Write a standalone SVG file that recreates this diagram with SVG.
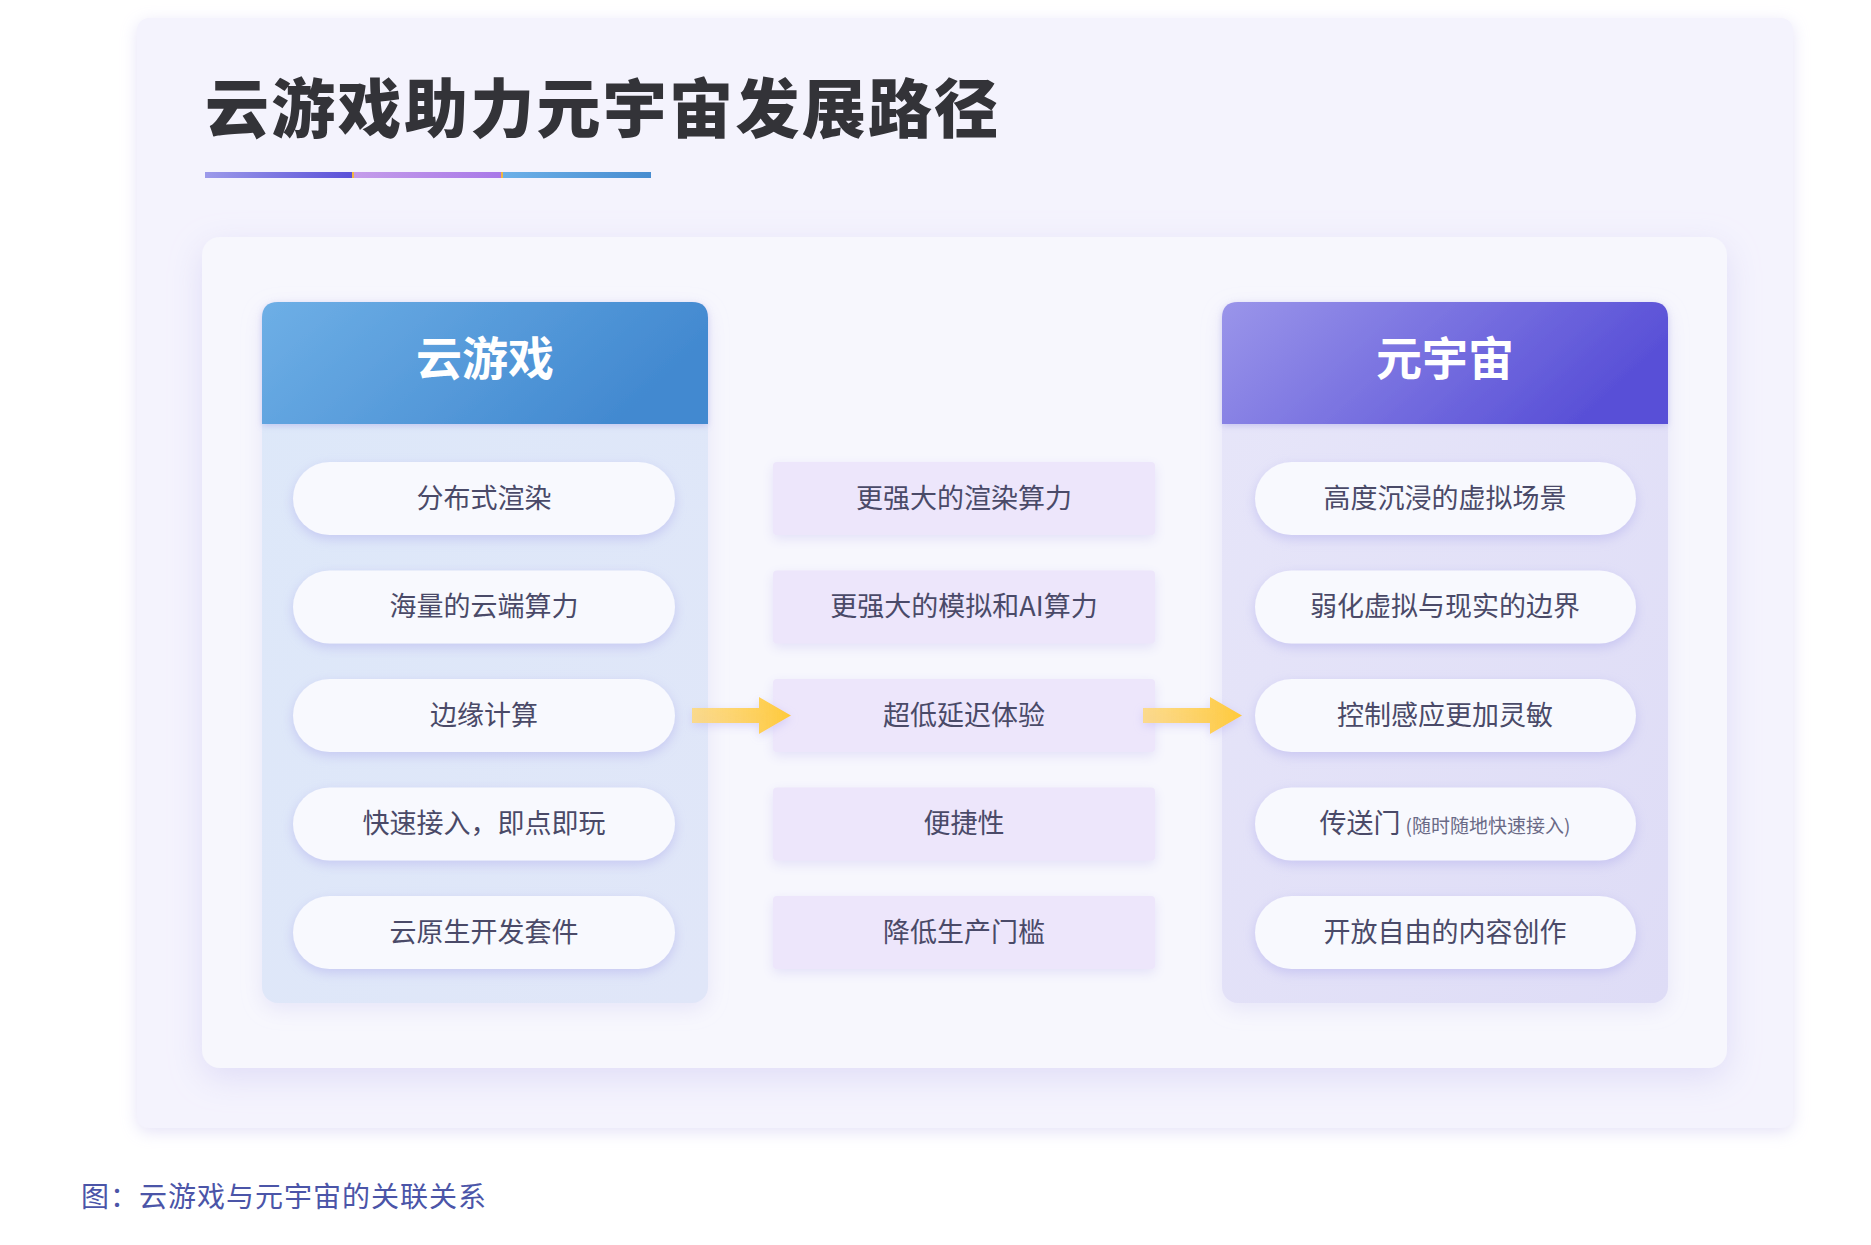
<svg xmlns="http://www.w3.org/2000/svg" width="1871" height="1245" viewBox="0 0 1871 1245">
<defs>
<style>
.cjk{font-family:"Noto Sans CJK SC","Noto Sans",sans-serif}
.title{font-size:64px;font-weight:900;fill:#333338;letter-spacing:2.3px}
.head{font-size:46px;font-weight:700;fill:#ffffff;text-anchor:middle}
.item{font-size:27px;font-weight:400;fill:#4a4a68;text-anchor:middle}
.small{font-size:19px;fill:#6a6a86}
.pill{fill:#f8f9fe;filter:url(#pillShadow)}
.mid{fill:#ede6fb;filter:url(#midShadow)}
.cap{font-size:28px;fill:#4b55a8;letter-spacing:1px}
</style>
<linearGradient id="gBar1" x1="0" x2="1" y1="0" y2="0"><stop offset="0" stop-color="#9c9aea"/><stop offset="1" stop-color="#5a50d8"/></linearGradient>
<linearGradient id="gBar2" x1="0" x2="1" y1="0" y2="0"><stop offset="0" stop-color="#c49cea"/><stop offset="1" stop-color="#a878e8"/></linearGradient>
<linearGradient id="gBar3" x1="0" x2="1" y1="0" y2="0"><stop offset="0" stop-color="#6cb0e8"/><stop offset="1" stop-color="#478cd0"/></linearGradient>
<linearGradient id="gHeadL" x1="0" x2="1" y1="0" y2="0.3"><stop offset="0" stop-color="#6eafe6"/><stop offset="1" stop-color="#4289d0"/></linearGradient>
<linearGradient id="gHeadR" x1="0" x2="1" y1="0" y2="0.3"><stop offset="0" stop-color="#9a95ea"/><stop offset="1" stop-color="#5950d7"/></linearGradient>
<linearGradient id="gBodyL" x1="0" x2="1" y1="0" y2="1"><stop offset="0" stop-color="#dde8f9"/><stop offset="1" stop-color="#e0e6f8"/></linearGradient>
<linearGradient id="gBodyR" x1="0" x2="1" y1="0" y2="1"><stop offset="0" stop-color="#e7e6f9"/><stop offset="1" stop-color="#dedcf6"/></linearGradient>
<linearGradient id="gArrow" x1="0" x2="1" y1="0" y2="0"><stop offset="0" stop-color="#ffd978" stop-opacity="0.85"/><stop offset="1" stop-color="#ffca3a"/></linearGradient>
<filter id="cardShadow" x="-5%" y="-5%" width="110%" height="112%"><feDropShadow dx="0" dy="4" stdDeviation="8" flood-color="#c4c0ee" flood-opacity="0.45"/></filter>
<filter id="panelShadow" x="-5%" y="-5%" width="110%" height="115%"><feDropShadow dx="0" dy="10" stdDeviation="16" flood-color="#c8c2f0" flood-opacity="0.45"/></filter>
<filter id="colShadow" x="-10%" y="-5%" width="120%" height="112%"><feDropShadow dx="0" dy="6" stdDeviation="10" flood-color="#c8c4f0" flood-opacity="0.35"/></filter>
<filter id="headShadow" x="-5%" y="-10%" width="110%" height="125%"><feDropShadow dx="0" dy="2" stdDeviation="3" flood-color="#8f88e0" flood-opacity="0.35"/></filter>
<filter id="pillShadow" x="-10%" y="-30%" width="120%" height="170%"><feDropShadow dx="0" dy="4" stdDeviation="6" flood-color="#a8a4ea" flood-opacity="0.45"/></filter>
<filter id="midShadow" x="-10%" y="-30%" width="120%" height="170%"><feDropShadow dx="0" dy="4" stdDeviation="6" flood-color="#cbc6f2" flood-opacity="0.45"/></filter>
<filter id="arrowShadow" x="-30%" y="-60%" width="160%" height="220%"><feDropShadow dx="0" dy="3" stdDeviation="5" flood-color="#b4acf0" flood-opacity="0.45"/></filter>
</defs>

<rect width="1871" height="1245" fill="#ffffff"/>

<g id="card">
<rect x="137" y="18" width="1656" height="1110" rx="12" fill="#f4f3fd" filter="url(#cardShadow)"/>
</g>

<g id="title">
<text class="cjk title" x="205" y="132">云游戏助力元宇宙发展路径</text>
<rect x="205" y="172" width="446" height="6" fill="#f2b640"/>
<rect x="205" y="172" width="147" height="6" fill="url(#gBar1)"/>
<rect x="354" y="172" width="147" height="6" fill="url(#gBar2)"/>
<rect x="503" y="172" width="148" height="6" fill="url(#gBar3)"/>
</g>

<g id="panel">
<rect x="202" y="237" width="1525" height="831" rx="18" fill="#f7f7fd" filter="url(#panelShadow)"/>
</g>

<g id="col-cloud-gaming">
<rect x="262" y="302" width="446" height="701" rx="16" fill="url(#gBodyL)" filter="url(#colShadow)"/>
<path d="M262,424 V318 Q262,302 278,302 H692 Q708,302 708,318 V424 Z" fill="url(#gHeadL)" filter="url(#headShadow)"/>
<text class="cjk head" x="485" y="375">云游戏</text>
</g>

<g id="col-metaverse">
<rect x="1222" y="302" width="446" height="701" rx="16" fill="url(#gBodyR)" filter="url(#colShadow)"/>
<path d="M1222,424 V318 Q1222,302 1238,302 H1652 Q1668,302 1668,318 V424 Z" fill="url(#gHeadR)" filter="url(#headShadow)"/>
<text class="cjk head" x="1445" y="375">元宇宙</text>
</g>

<g id="left-1"><rect class="pill" x="293" y="462" width="382" height="73" rx="36.5"/><text class="cjk item" x="484" y="507.5">分布式渲染</text></g>
<g id="left-2"><rect class="pill" x="293" y="570.5" width="382" height="73" rx="36.5"/><text class="cjk item" x="484" y="616">海量的云端算力</text></g>
<g id="left-3"><rect class="pill" x="293" y="679" width="382" height="73" rx="36.5"/><text class="cjk item" x="484" y="724.5">边缘计算</text></g>
<g id="left-4"><rect class="pill" x="293" y="787.5" width="382" height="73" rx="36.5"/><text class="cjk item" x="484" y="833">快速接入，即点即玩</text></g>
<g id="left-5"><rect class="pill" x="293" y="896" width="382" height="73" rx="36.5"/><text class="cjk item" x="484" y="941.5">云原生开发套件</text></g>

<g id="mid-1"><rect class="mid" x="773" y="462" width="382" height="73" rx="4"/><text class="cjk item" x="964" y="507.5">更强大的渲染算力</text></g>
<g id="mid-2"><rect class="mid" x="773" y="570.5" width="382" height="73" rx="4"/><text class="cjk item" x="964" y="616">更强大的模拟和AI算力</text></g>
<g id="mid-3"><rect class="mid" x="773" y="679" width="382" height="73" rx="4"/><text class="cjk item" x="964" y="724.5">超低延迟体验</text></g>
<g id="mid-4"><rect class="mid" x="773" y="787.5" width="382" height="73" rx="4"/><text class="cjk item" x="964" y="833">便捷性</text></g>
<g id="mid-5"><rect class="mid" x="773" y="896" width="382" height="73" rx="4"/><text class="cjk item" x="964" y="941.5">降低生产门槛</text></g>

<g id="right-1"><rect class="pill" x="1255" y="462" width="381" height="73" rx="36.5"/><text class="cjk item" x="1445" y="507.5">高度沉浸的虚拟场景</text></g>
<g id="right-2"><rect class="pill" x="1255" y="570.5" width="381" height="73" rx="36.5"/><text class="cjk item" x="1445" y="616">弱化虚拟与现实的边界</text></g>
<g id="right-3"><rect class="pill" x="1255" y="679" width="381" height="73" rx="36.5"/><text class="cjk item" x="1445" y="724.5">控制感应更加灵敏</text></g>
<g id="right-4"><rect class="pill" x="1255" y="787.5" width="381" height="73" rx="36.5"/><text class="cjk item" x="1445" y="833">传送门<tspan class="small" dx="5">(随时随地快速接入)</tspan></text></g>
<g id="right-5"><rect class="pill" x="1255" y="896" width="381" height="73" rx="36.5"/><text class="cjk item" x="1445" y="941.5">开放自由的内容创作</text></g>

<g id="connectors" filter="url(#arrowShadow)">
<path d="M692,708 H759 V697 L791,715.5 L759,734 V723 H692 Z" fill="url(#gArrow)"/>
<path d="M1143,708 H1210 V697 L1242,715.5 L1210,734 V723 H1143 Z" fill="url(#gArrow)"/>
</g>

<g id="caption">
<text class="cjk cap" x="81" y="1207">图：云游戏与元宇宙的关联关系</text>
</g>
</svg>
